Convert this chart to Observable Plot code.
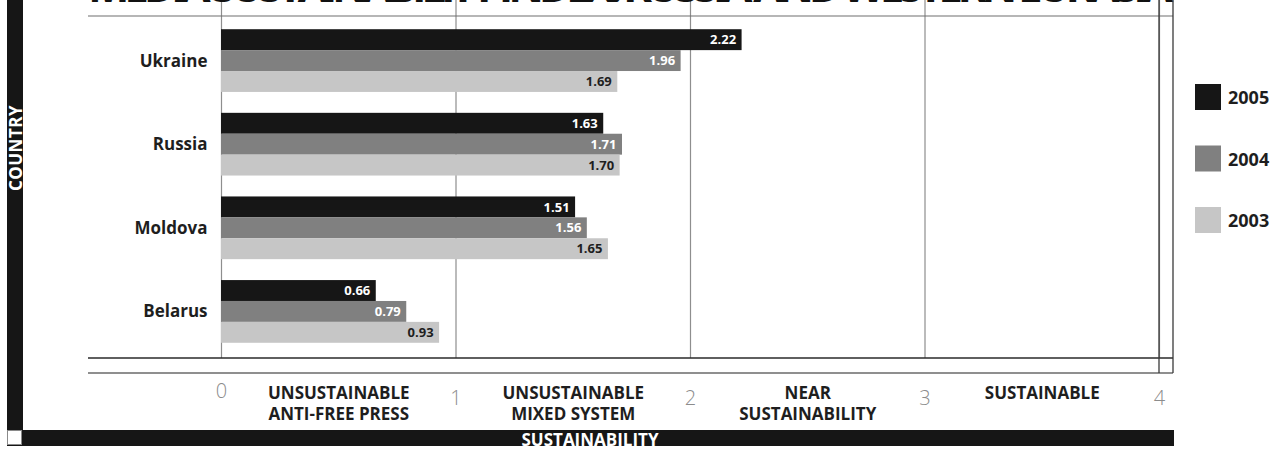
<!DOCTYPE html>
<html>
<head>
<meta charset="utf-8">
<script src="https://cdn.jsdelivr.net/npm/d3@7"></script>
<script src="https://cdn.jsdelivr.net/npm/@observablehq/plot@0.6"></script>
<style>
  html, body { margin: 0; padding: 0; background: #fff; overflow: hidden; }
  #chart { position: relative; width: 1277px; height: 449px; }
</style>
</head>
<body>
<div id="chart"></div>
<script>
// Media Sustainability Index scores by country and year
const countries = ["Ukraine", "Russia", "Moldova", "Belarus"];
const years = ["2005", "2004", "2003"];
const score2005 = [2.22, 1.63, 1.51, 0.66];
const score2004 = [1.96, 1.71, 1.56, 0.79];
const score2003 = [1.69, 1.70, 1.65, 0.93];
const yearColors = ["#161616", "#808080", "#c6c6c6"];
const valueColors = ["#ffffff", "#ffffff", "#1e1e1e"];
const scaleTicks = [0, 1, 2, 3, 4];
const zoneNames = ["UNSUSTAINABLE\nANTI-FREE PRESS", "UNSUSTAINABLE\nMIXED SYSTEM", "NEAR\nSUSTAINABILITY", "SUSTAINABLE"];
const headline = "MEDIA SUSTAINABILITY INDEX: RUSSIA AND WESTERN EURASIA";

const FONT = "'Open Sans', 'Noto Sans', sans-serif";
const INK = "#1e1e1e";

const scoresByYear = [score2005, score2004, score2003];
const rows = countries.flatMap((c, i) =>
  years.map((y, j) => ({ country: c, year: y, key: `${c} ${y}`, value: scoresByYear[j][i] }))
);

// one band per bar, with an empty band separating each country group
const yDomain = countries.flatMap((c, i) => [
  ...years.map(y => `${c} ${y}`),
  ...(i < countries.length - 1 ? [`${c} gap`] : [])
]);

const zones = d3.pairs(scaleTicks).map(([a, b], i) => ({ mid: (a + b) / 2, label: zoneNames[i] }));

const plot = Plot.plot({
  width: 1277,
  height: 449,
  marginLeft: 221,
  marginRight: 118,
  marginTop: 0,
  marginBottom: 91,
  style: { fontFamily: FONT, background: "transparent", overflow: "visible" },
  x: { domain: [0, 4], axis: null },
  y: { domain: yDomain, axis: null, paddingInner: 0, paddingOuter: 0.68, insetTop: 15, insetBottom: 1, round: false },
  color: { domain: years, range: yearColors },
  marks: [
    Plot.ruleX(scaleTicks, { x: d => d, stroke: "#8e8e8e", strokeWidth: 1.2 }),
    Plot.barX(rows, { x1: () => 0, x2: "value", y: "key", fill: "year" }),
    ...years.map((yr, j) =>
      Plot.text(rows.filter(r => r.year === yr), {
        x: "value", y: "key", text: d => d.value.toFixed(2),
        textAnchor: "end", dx: -6, fill: valueColors[j],
        fontWeight: "bold", fontSize: 13
      })
    ),
    Plot.text(countries, {
      y: c => `${c} ${years[1]}`, text: d => d, frameAnchor: "left",
      textAnchor: "end", dx: -14, fontWeight: "bold", fontSize: 17, fill: INK
    }),
    Plot.text(scaleTicks.filter(t => t === 0), {
      x: d => d, text: d => String(d), frameAnchor: "bottom", lineAnchor: "middle", dy: 33,
      fill: "#8c8c8c", fontSize: 20, fontWeight: 300
    }),
    Plot.text(scaleTicks.filter(t => t !== 0), {
      x: d => d, text: d => String(d), frameAnchor: "bottom", lineAnchor: "middle", dy: 40.5,
      fill: "#8c8c8c", fontSize: 20, fontWeight: 300
    }),
    Plot.text(zones, {
      x: "mid", text: "label", frameAnchor: "bottom", lineAnchor: "top", dy: 26,
      lineHeight: 1.22, fontWeight: "bold", fontSize: 17, fill: INK,
      style: "letter-spacing:0.4px"
    })
  ]
});

document.getElementById("chart").appendChild(plot);

// frame, axis-title bands and legend around the plot area
const svg = d3.select(plot);
const xScale = plot.scale("x");
const xEnd = xScale.apply(4);
const frameLeft = 88, frameRight = xEnd + 14, frameTop = 16, frameBase = 358, frameLower = 373;

svg.append("text")
  .attr("x", frameLeft).attr("y", 1.5)
  .attr("text-anchor", "start")
  .attr("textLength", frameRight - frameLeft).attr("lengthAdjust", "spacing")
  .attr("font-family", FONT).attr("font-weight", "bold").attr("font-size", 44)
  .attr("fill", "#111").text(headline);

svg.append("line").attr("x1", frameLeft).attr("x2", frameRight).attr("y1", frameTop).attr("y2", frameTop)
  .attr("stroke", "#6e6e6e").attr("stroke-width", 1.2);
svg.append("line").attr("x1", frameLeft).attr("x2", frameRight).attr("y1", frameBase).attr("y2", frameBase)
  .attr("stroke", "#2a2a2a").attr("stroke-width", 1.4);
svg.append("line").attr("x1", frameLeft).attr("x2", frameRight).attr("y1", frameLower).attr("y2", frameLower)
  .attr("stroke", "#6a6a6a").attr("stroke-width", 1.6);
for (const xv of [xEnd, frameRight]) {
  svg.append("line").attr("x1", xv).attr("x2", xv).attr("y1", 0).attr("y2", frameLower)
    .attr("stroke", "#3a3a3a").attr("stroke-width", 1.3);
}

// vertical "COUNTRY" band
svg.append("rect").attr("x", 7).attr("y", 0).attr("width", 16).attr("height", 430).attr("fill", "#161616");
svg.append("text")
  .attr("transform", "translate(15.5,148) rotate(-90)")
  .attr("text-anchor", "middle").attr("dominant-baseline", "central")
  .attr("font-family", FONT).attr("font-weight", "bold").attr("font-size", 17)
  .attr("letter-spacing", "0.5px")
  .attr("fill", "#fff").text("COUNTRY");

// horizontal "SUSTAINABILITY" band
svg.append("rect").attr("x", 7).attr("y", 430).attr("width", frameRight + 1 - 7).attr("height", 16).attr("fill", "#161616");
svg.append("rect").attr("x", 7.5).attr("y", 430.5).attr("width", 14).attr("height", 14)
  .attr("fill", "#fff").attr("stroke", "#8a8a8a").attr("stroke-width", 1);
svg.append("text")
  .attr("x", (7 + frameRight) / 2).attr("y", 445.5)
  .attr("text-anchor", "middle")
  .attr("font-family", FONT).attr("font-weight", "bold").attr("font-size", 17)
  .attr("fill", "#fff").text("SUSTAINABILITY");

// legend
const legend = svg.append("g").attr("transform", "translate(1195,84)");
years.forEach((yr, j) => {
  const g = legend.append("g").attr("transform", `translate(0,${j * 61.5})`);
  g.append("rect").attr("width", 26).attr("height", 26).attr("fill", yearColors[j]);
  g.append("text").attr("x", 33).attr("y", 13)
    .attr("text-anchor", "start").attr("dominant-baseline", "central")
    .attr("font-family", FONT).attr("font-weight", "bold").attr("font-size", 18)
    .attr("fill", INK).text(yr);
});
</script>
</body>
</html>
